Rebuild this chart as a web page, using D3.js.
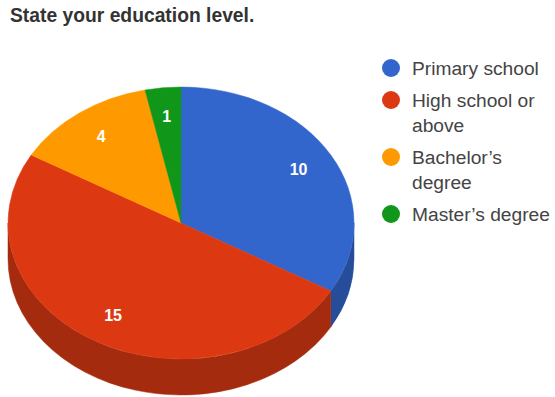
<!DOCTYPE html>
<html>
<head>
<meta charset="utf-8">
<script src="https://cdn.jsdelivr.net/npm/d3@7"></script>
<style>
  html, body { margin: 0; padding: 0; background: #fff; }
  svg { display: block; }
</style>
</head>
<body>
<svg id="chart" width="555" height="397"></svg>
<script>
// Survey answers
const title = "State your education level.";
const categories = ["Primary school", "High school or above", "Bachelor\u2019s degree", "Master\u2019s degree"];
const values = [10, 15, 4, 1];

// Slice colours (top face / side wall)
const topColors = ["#3366cc", "#dc3912", "#ff9900", "#109618"];
const sideColors = ["#264d9a", "#a52b0e", "#bf7300", "#0c7112"];

const svg = d3.select("#chart");

// Title
svg.append("text")
  .attr("x", 10)
  .attr("y", 22)
  .attr("font-family", "Liberation Sans, Arial, sans-serif")
  .attr("font-weight", "bold")
  .attr("font-size", 19.3)
  .attr("fill", "#333")
  .text(title);

// Tilted pie geometry
const cx = 181, cy = 223, rx = 173, ry = 136, depth = 36;
const pt = (a, dy = 0) => [cx + rx * Math.sin(a), cy - ry * Math.cos(a) + dy];

const pie = d3.pie().sort(null).value(d => d)
  .startAngle(0).endAngle(2 * Math.PI);
const arcs = pie(values);

// Side walls: only the part of the rim facing the viewer (90°..270°)
const frontStart = Math.PI / 2, frontEnd = 3 * Math.PI / 2;
const sides = svg.append("g");
arcs.forEach((d, i) => {
  const a0 = Math.max(d.startAngle, frontStart);
  const a1 = Math.min(d.endAngle, frontEnd);
  if (a1 <= a0) return;
  const [x0, y0] = pt(a0), [x1, y1] = pt(a1);
  const large = (a1 - a0) > Math.PI ? 1 : 0;
  const p = `M${x0},${y0} A${rx},${ry} 0 ${large} 1 ${x1},${y1}` +
            ` L${x1},${y1 + depth} A${rx},${ry} 0 ${large} 0 ${x0},${y0 + depth} Z`;
  sides.append("path").attr("d", p)
    .attr("fill", sideColors[i]).attr("stroke", sideColors[i]).attr("stroke-width", 0.5);
});

// Top faces
const tops = svg.append("g");
arcs.forEach((d, i) => {
  const [x0, y0] = pt(d.startAngle), [x1, y1] = pt(d.endAngle);
  const large = (d.endAngle - d.startAngle) > Math.PI ? 1 : 0;
  const p = `M${cx},${cy} L${x0},${y0} A${rx},${ry} 0 ${large} 1 ${x1},${y1} Z`;
  tops.append("path").attr("d", p)
    .attr("fill", topColors[i]).attr("stroke", topColors[i]).attr("stroke-width", 0.5);
});

// Value labels at ~78% of the radius along each slice's middle angle
const labelFrac = 0.785;
svg.append("g").selectAll("text")
  .data(arcs)
  .join("text")
  .attr("x", d => cx + rx * labelFrac * Math.sin((d.startAngle + d.endAngle) / 2))
  .attr("y", d => cy - ry * labelFrac * Math.cos((d.startAngle + d.endAngle) / 2))
  .attr("dy", "0.35em")
  .attr("text-anchor", "middle")
  .attr("font-family", "Liberation Sans, Arial, sans-serif")
  .attr("font-weight", "bold")
  .attr("font-size", 16)
  .attr("fill", "#fff")
  .text(d => d.data);

// Legend with wrapped labels
const legendX = 391, textX = 412, maxW = 142, lineH = 25, gap = 7;
const legend = svg.append("g")
  .attr("font-family", "Liberation Sans, Arial, sans-serif")
  .attr("font-size", 19.2)
  .attr("fill", "#444");

let y = 68;
categories.forEach((name, i) => {
  legend.append("circle")
    .attr("cx", legendX).attr("cy", y).attr("r", 9)
    .attr("fill", topColors[i]);
  const t = legend.append("text").attr("x", textX).attr("y", y).attr("dy", "0.35em");
  const words = name.split(" ");
  let line = [], lines = 0;
  let tspan = t.append("tspan").attr("x", textX);
  words.forEach(w => {
    line.push(w);
    tspan.text(line.join(" "));
    if (tspan.node().getComputedTextLength() > maxW && line.length > 1) {
      line.pop();
      tspan.text(line.join(" "));
      line = [w];
      lines++;
      tspan = t.append("tspan").attr("x", textX).attr("dy", lineH).text(w);
    }
  });
  y += (lines + 1) * lineH + gap;
});
</script>
</body>
</html>
